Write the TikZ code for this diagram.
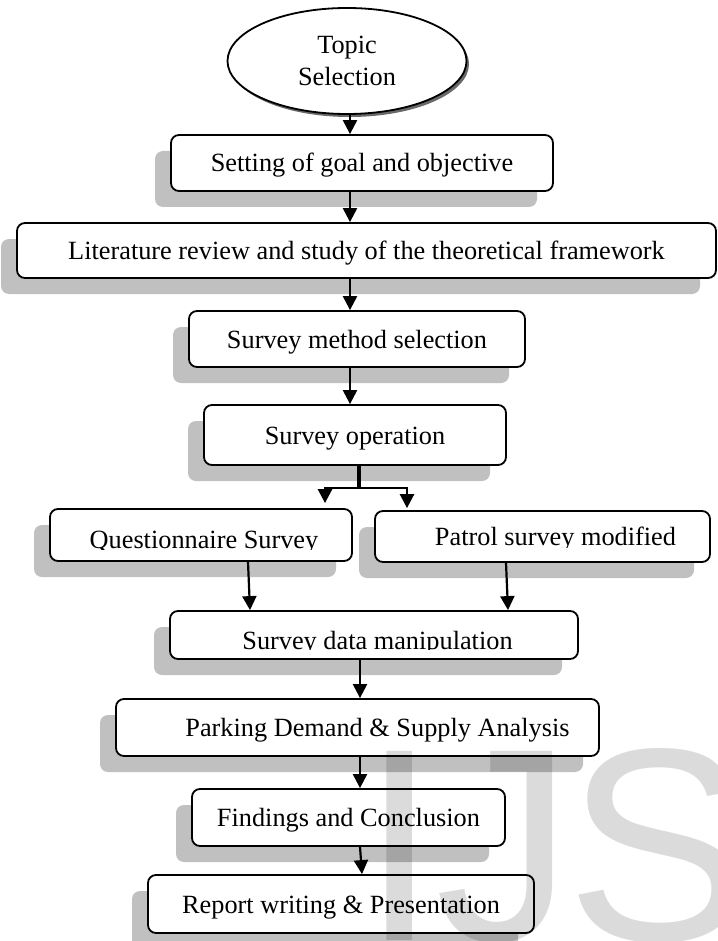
\documentclass[tikz,border=0pt]{standalone}
\usepackage{fontspec}
\setmainfont{Liberation Serif}
\newfontfamily\marksans{Liberation Sans}
\usepackage{tikz}
\usetikzlibrary{arrows.meta, shapes.geometric, shadows, positioning}
\definecolor{shade}{RGB}{192,192,192}
\definecolor{rimshade}{RGB}{105,105,105}

\begin{document}
\begin{tikzpicture}[
  x=1pt, y=-1pt,
  every node/.style={font=\fontsize{26.3}{32}\selectfont},
  txt/.style={text height=18pt, text depth=0pt},
  box/.style={rectangle, rounded corners=8pt, draw, line width=1.8pt, fill=white, inner sep=0pt, txt,
    drop shadow={shadow xshift=-16pt, shadow yshift=-16pt, fill=shade, opacity=1}},
  topicbox/.style={ellipse, draw, line width=1.8pt, fill=white, align=center, inner sep=0pt,
    minimum width=239pt, minimum height=106pt,
    drop shadow={shadow xshift=2.5pt, shadow yshift=-3pt, fill=rimshade, opacity=1}},
  arr/.style={-{Triangle[length=14pt,width=14pt]}, line width=2.2pt},
  forkline/.style={line width=3.2pt},
  wmark/.style={font=\marksans\fontsize{275}{275}\selectfont, text=black, text opacity=0.14, inner sep=0pt, anchor=base west},
]
\useasboundingbox (0,0) rectangle (717,941);
\clip (0,0) rectangle (717,941);

%% spines of the arrows
\coordinate (upper) at (350,0);
\coordinate (lower) at (360,0);
\coordinate (split) at (359,0);

%% Boxes
\node[topicbox] (topic) at (347,61) {Topic\\Selection};
\node[box, minimum width=382pt, minimum height=56pt] (goal) at (362,163) {Setting of goal and objective};
\node[box, minimum width=699pt, minimum height=55pt] (review) at (366.5,250.5) {Literature review and study of the theoretical framework};
\node[box, minimum width=336pt, minimum height=56pt] (method) at (357,339) {Survey method selection};
\node[box, minimum width=302pt, minimum height=60pt] (operation) at (355,435) {Survey operation};

%% Two survey branches
\node[box, minimum width=302pt, minimum height=52pt] (quest) at (201,535) {};
\node[box, minimum width=335pt, minimum height=51pt] (patrol) at (542.5,536.5) {};
\begin{scope}
  \clip (quest.north west) rectangle ([yshift=12pt]quest.south east);
  \node[anchor=base] (questtext) at (204,548) {Questionnaire Survey};
\end{scope}
\begin{scope}
  \clip (patrol.north west) rectangle ([yshift=15pt]patrol.south east);
  \node[anchor=base] (patroltext) at (555.5,545) {Patrol survey modified};
\end{scope}

%% Lower part
\node[box, minimum width=408pt, minimum height=48pt] (data) at (374,635) {};
\begin{scope}
  \clip (data.north west) rectangle ([yshift=10pt]data.south east);
  \node[anchor=base] (datatext) at (377.5,649) {Survey data manipulation};
\end{scope}
\node[box, minimum width=483pt, minimum height=57pt,
  label={[xshift=20pt, txt]center:Parking Demand \& Supply Analysis}] (parking) at (357.5,727.5) {};
\node[box, minimum width=313pt, minimum height=57pt] (findings) at (348.5,817.5) {Findings and Conclusion};
\node[box, minimum width=386pt, minimum height=58pt] (report) at (341,904) {Report writing \& Presentation};

%% Arrows
\draw[arr] (topic.south -| upper) -- (goal.north -| upper);
\draw[arr] (goal.south -| upper) -- (review.north -| upper);
\draw[arr] (review.south -| upper) -- (method.north -| upper);
\draw[arr] (method.south -| upper) -- (operation.north -| upper);

\draw[forkline] (operation.south -| split) -- ++(0,22) coordinate (fork);
\draw[arr, line width=2.6pt] (fork) -| ([xshift=124pt, yshift=5pt]quest.north);
\draw[arr, line width=2.6pt] (fork) -| ([xshift=-135.5pt, yshift=2pt]patrol.north);

\draw[arr] ([xshift=47pt]quest.south) -- ([xshift=-124pt]data.north);
\draw[arr] ([xshift=-36.5pt]patrol.south) -- ([xshift=134pt]data.north);

\draw[arr] (data.south -| lower) -- (parking.north -| lower);
\draw[arr] (parking.south -| lower) -- (findings.north -| lower);
\draw[arr] (findings.south -| lower) -- ([xshift=2pt]report.north -| lower);

%% Watermark
\node[wmark] (markI) at (361,940) {I};
\node[wmark] (markJ) at (435,940) {J};
\node[wmark] (markS) at (566,940) {S};

\end{tikzpicture}
\end{document}
